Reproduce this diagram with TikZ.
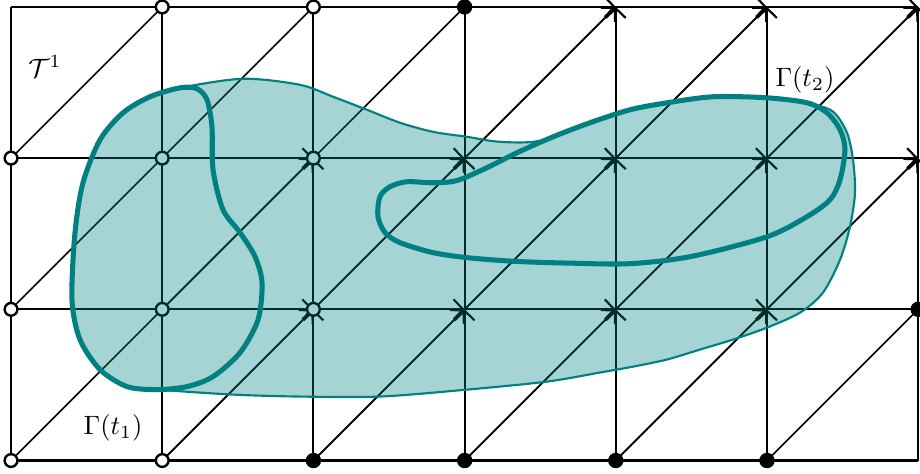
\documentclass[tikz,border=0pt]{standalone}
\usetikzlibrary{arrows.meta}
\definecolor{phaseteal}{RGB}{0,128,128}

\begin{document}
\begin{tikzpicture}[
    x=2cm, y=2cm,
    % Line Styles
    gridline/.style={
        black,
        line width=0.8pt
    },
    diagline/.style={
        black,
        line width=0.6pt
    },
    tipped/.style={
        -{Straight Barb[length=3.6pt,width=7.5pt,line width=0.8pt]}
    },
    % Node Styles
    openmark/.style={
        circle,
        draw=black,
        line width=0.9pt,
        fill=white,
        minimum size=4.8pt,
        inner sep=0pt
    },
    fullmark/.style={
        circle,
        fill=black,
        minimum size=5.8pt,
        inner sep=0pt
    },
    % Phase Styles
    phaseregion/.style={
        draw=phaseteal,
        line width=0.8pt,
        fill=phaseteal,
        fill opacity=0.35
    },
    interface/.style={
        draw=phaseteal,
        line width=1.9pt
    }
]

    \useasboundingbox (-0.073,-0.086) rectangle (6.012,3.046);

    % --- The Mesh Vertices ---
    \foreach \i in {0,...,6} {
        \foreach \j in {0,...,3} {
            \coordinate (v-\i-\j) at (\i,\j);
        }
    }

    % --- The Mesh Edges ---
    \foreach \j in {0,...,3} {
        \draw[gridline] (v-0-\j) -- (v-6-\j);
    }
    \foreach \i in {0,...,6} {
        \draw[gridline] (v-\i-0) -- (v-\i-3);
    }
    \foreach \i [evaluate=\i as \ii using int(\i+1)] in {0,...,5} {
        \foreach \j [evaluate=\j as \jj using int(\j+1)] in {0,...,2} {
            \draw[diagline] (v-\i-\j) -- (v-\ii-\jj);
        }
    }

    % --- Edges pointing into the updated vertices ---
    \foreach \i/\j in {4/3,5/3,6/3,2/2,3/2,4/2,5/2,6/2,2/1,3/1,4/1,5/1} {
        \pgfmathtruncatemacro\ia{\i-1}
        \pgfmathtruncatemacro\jb{\j-1}
        \draw[gridline, tipped] (v-\ia-\j) -- (v-\i-\j);
        \draw[gridline, tipped] (v-\i-\jb) -- (v-\i-\j);
        \draw[diagline, tipped] (v-\ia-\jb) -- (v-\i-\j);
    }

    % --- Vertex Marks ---
    \foreach \i/\j in {1/3,2/3,0/2,1/2,2/2,0/1,1/1,2/1,0/0,1/0} {
        \node[openmark] (o-\i-\j) at (v-\i-\j) {};
    }
    \foreach \i/\j in {3/3,6/1,2/0,3/0,4/0,5/0} {
        \node[fullmark] (f-\i-\j) at (v-\i-\j) {};
    }

    % --- The Swept Region ---
    \draw[phaseregion] plot[smooth cycle] coordinates {
        (0.966,0.469) (0.767,0.489) (0.589,0.601) (0.456,0.800) (0.403,1.064)
        (0.423,1.507) (0.476,1.837) (0.589,2.122) (0.741,2.300) (0.919,2.406)
        (1.118,2.465) (1.534,2.525) (1.911,2.485) (2.130,2.406) (2.354,2.320)
        (2.573,2.234) (2.791,2.174) (3.016,2.141) (3.234,2.108) (3.499,2.115)
        (3.829,2.234) (4.094,2.320) (4.339,2.366) (4.643,2.406) (5.000,2.399)
        (5.284,2.360) (5.437,2.307) (5.529,2.168) (5.569,1.989) (5.582,1.771)
        (5.549,1.547) (5.483,1.328) (5.370,1.110) (5.218,0.978) (5.000,0.879)
        (4.775,0.800) (4.557,0.734) (4.339,0.668) (4.114,0.621) (3.896,0.582)
        (3.545,0.522) (3.016,0.469) (2.440,0.423) (1.911,0.423) (1.468,0.436)
    };

    % --- Interface at t1 ---
    \draw[interface] plot[smooth cycle] coordinates {
        (1.118,2.465) (1.230,2.459) (1.296,2.386) (1.329,2.208) (1.336,1.923)
        (1.402,1.659) (1.515,1.507) (1.614,1.348) (1.660,1.176) (1.634,0.932)
        (1.515,0.714) (1.336,0.555) (1.164,0.489) (0.966,0.469) (0.767,0.489)
        (0.589,0.601) (0.456,0.800) (0.403,1.064) (0.423,1.507) (0.476,1.837)
        (0.589,2.122) (0.741,2.300) (0.919,2.406)
    };

    % --- Interface at t2 ---
    \draw[interface] plot[smooth cycle] coordinates {
        (2.427,1.613) (2.474,1.507) (2.573,1.441) (2.791,1.375) (3.016,1.342)
        (3.320,1.318) (3.677,1.306) (4.094,1.302) (4.500,1.350)
        (5.000,1.480) (5.265,1.613) (5.417,1.725) (5.483,1.857) (5.516,2.056)
        (5.483,2.188) (5.397,2.300) (5.265,2.366) (5.000,2.399) (4.643,2.406)
        (4.339,2.366) (4.094,2.320) (3.829,2.234) (3.585,2.141) (3.347,2.036)
        (3.148,1.937) (2.950,1.852) (2.791,1.837) (2.619,1.844)
        (2.507,1.811) (2.440,1.745)
    };

    % --- Labels ---
    \node (mesh) at (0.225,2.606) {$\mathcal{T}^1$};
    \node (gamma2) at (5.251,2.518) {$\Gamma(t_2)$};
    \node (gamma1) at (0.675,0.218) {$\Gamma(t_1)$};

\end{tikzpicture}
\end{document}
